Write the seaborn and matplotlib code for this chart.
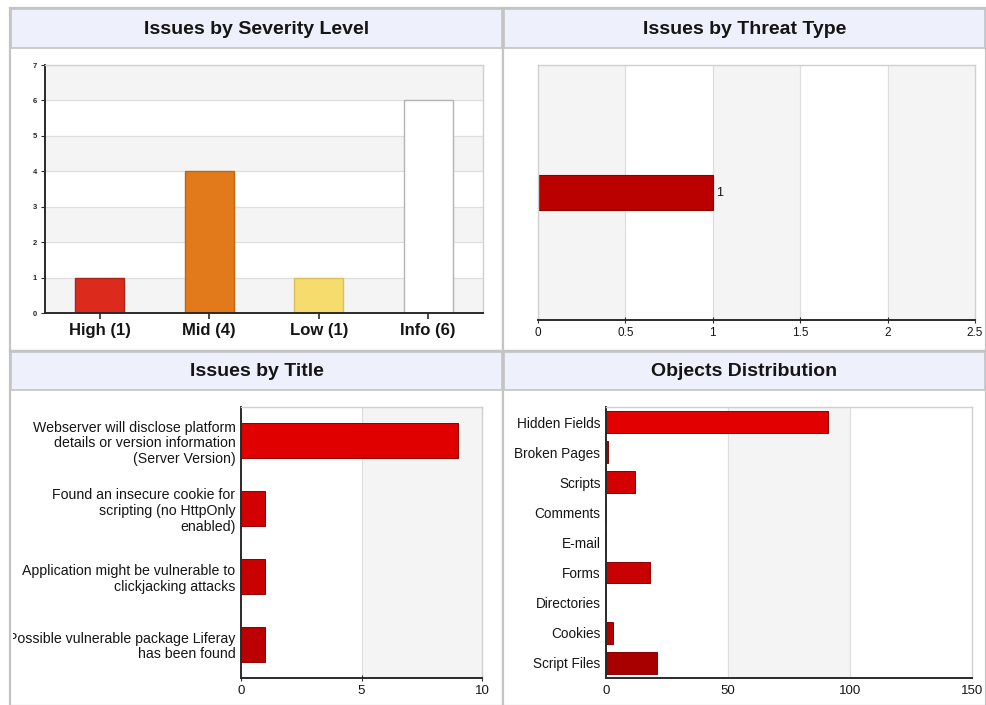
import numpy as np
import pandas as pd
import matplotlib
matplotlib.use("Agg")
import matplotlib.pyplot as plt
from matplotlib.patches import Rectangle
import seaborn as sns

# ---------------- data ----------------
severity_levels = ["High (1)", "Mid (4)", "Low (1)", "Info (6)"]
severity_counts = [1, 4, 1, 6]
severity_colors = ["#dc2a1c", "#e27a1b", "#f6dc6c", "#ffffff"]
severity_edges = ["#a8251a", "#c06515", "#d9c058", "#b4b4b4"]
severity_yticks = [0, 1, 2, 3, 4, 5, 6, 7]

threat_types = ["Threat"]
threat_counts = [1]
threat_xticks = [0, 0.5, 1, 1.5, 2, 2.5]
threat_xticklabels = ["0", "0.5", "1", "1.5", "2", "2.5"]

title_labels = [
    "Webserver will disclose platform\ndetails or version information\n(Server Version)",
    "Found an insecure cookie for\nscripting (no HttpOnly\nenabled)",
    "Application might be vulnerable to\nclickjacking attacks",
    "Possible vulnerable package Liferay\nhas been found",
]
title_counts = [9, 1, 1, 1]
title_colors = ["#e00000", "#d20000", "#c80000", "#ba0000"]
title_xticks = [0, 5, 10]

object_types = ["Hidden Fields", "Broken Pages", "Scripts", "Comments", "E-mail",
                "Forms", "Directories", "Cookies", "Script Files"]
object_counts = [91, 1, 12, 0, 0, 18, 0, 3, 21]
object_colors = ["#e20000", "#a80000", "#d40000", "#cc0000", "#c60000",
                 "#c80000", "#bc0000", "#b60000", "#a80000"]
object_xticks = [0, 50, 100, 150]

# ---------------- style ----------------
sns.set_theme(style="white")
plt.rcParams["font.family"] = ["Liberation Sans", "DejaVu Sans"]

W, H = 986, 705
fig = plt.figure(figsize=(W / 100, H / 100), dpi=100)
fig.patch.set_facecolor("white")

BORDER = "#c4c4c4"
TITLE_BG = "#eef0fb"
BAND = "#f4f4f4"
GRID = "#dedede"
DARK = "#2a2a2a"
TXT = "#151515"


def rect_px(x0, y0, x1, y1, **kw):
    r = Rectangle((x0 / W, 1 - y1 / H), (x1 - x0) / W, (y1 - y0) / H,
                  transform=fig.transFigure, **kw)
    fig.add_artist(r)
    return r


def ax_px(x0, y0, x1, y1):
    return fig.add_axes([x0 / W, 1 - y1 / H, (x1 - x0) / W, (y1 - y0) / H])


# panel frames and title bars
panels = [
    (10, 8, 503, 351, 48, "Issues by Severity Level"),
    (503, 8, 986, 351, 48, "Issues by Threat Type"),
    (10, 351, 503, 706, 390, "Issues by Title"),
    (503, 351, 986, 706, 390, "Objects Distribution"),
]
for x0, y0, x1, y1, tb, ttl in panels:
    rect_px(x0, y0, x1, y1, facecolor="white", edgecolor=BORDER, lw=1.6, zorder=-3)
    rect_px(x0 + 1, y0 + 1, x1 - 1, tb, facecolor=TITLE_BG, edgecolor=BORDER, lw=1.2, zorder=-2)
    fig.text((x0 + x1) / 2 / W, 1 - ((y0 + tb) / 2 + 1) / H, ttl, ha="center", va="center",
             fontsize=14, fontweight="bold", color=TXT)


def style_spines(ax, left_dark=True, bottom_dark=True):
    for s in ["top", "right"]:
        ax.spines[s].set_color("#d0d0d0")
        ax.spines[s].set_linewidth(1.0)
    ax.spines["left"].set_color(DARK if left_dark else "#d0d0d0")
    ax.spines["left"].set_linewidth(1.4 if left_dark else 1.0)
    ax.spines["bottom"].set_color(DARK if bottom_dark else "#d0d0d0")
    ax.spines["bottom"].set_linewidth(1.4 if bottom_dark else 1.0)
    for s in ax.spines.values():
        s.set_visible(True)


# ---------------- panel 1: severity ----------------
ax1 = ax_px(45, 65, 483, 313)
ax1.set_facecolor("white")
for lo in range(0, 7, 2):
    ax1.axhspan(lo, lo + 1, color=BAND, zorder=0, lw=0)
for v in severity_yticks[1:]:
    ax1.axhline(v, color=GRID, lw=0.9, zorder=0.5)
sns.barplot(x=severity_levels, y=severity_counts, hue=severity_levels,
            palette=severity_colors, legend=False, width=0.45, ax=ax1,
            saturation=1, zorder=2)
for cont, ec in zip(ax1.containers, severity_edges):
    for p in cont:
        p.set_edgecolor(ec)
        p.set_linewidth(1.0)
ax1.set_ylim(0, 7)
ax1.set_xlim(-0.5, 3.5)
ax1.set_yticks(severity_yticks)
ax1.set_yticklabels([str(v) for v in severity_yticks], fontsize=5.5, fontweight="bold")
ax1.tick_params(axis="y", length=3, width=0.8, color=DARK, pad=3, left=True)
ax1.tick_params(axis="x", length=4, width=1.2, color=DARK, pad=3, bottom=True)
for t in ax1.get_xticklabels():
    t.set_fontsize(12)
    t.set_fontweight("bold")
    t.set_color(TXT)
ax1.set_xlabel("")
ax1.set_ylabel("")
style_spines(ax1)

# ---------------- panel 2: threat type ----------------
ax2 = ax_px(538, 65, 975, 320)
ax2.set_facecolor("white")
for lo in [0, 1, 2]:
    ax2.axvspan(lo, lo + 0.5, color=BAND, zorder=0, lw=0)
for v in threat_xticks[1:-1]:
    ax2.axvline(v, color=GRID, lw=0.9, zorder=0.5)
sns.barplot(x=threat_counts, y=threat_types, orient="h", color="#bb0000",
            width=0.14, ax=ax2, saturation=1, zorder=2,
            edgecolor="#8c0000", linewidth=0.8)
for cont in ax2.containers:
    ax2.bar_label(cont, labels=[str(v) for v in threat_counts], padding=2,
                  fontsize=9, color=TXT)
ax2.set_xlim(0, 2.5)
ax2.set_xticks(threat_xticks)
ax2.set_xticklabels(threat_xticklabels, fontsize=8.5, color=TXT)
ax2.set_yticks([])
ax2.tick_params(axis="x", length=4, width=0.8, color=DARK, pad=3, bottom=True, direction="inout")
ax2.set_xlabel("")
ax2.set_ylabel("")
style_spines(ax2, left_dark=False)

# ---------------- panel 3: issues by title ----------------
ax3 = ax_px(241, 407, 482, 678)
ax3.set_facecolor("white")
ax3.axvspan(5, 10, color=BAND, zorder=0, lw=0)
ax3.axvline(5, color=GRID, lw=0.9, zorder=0.5)
sns.barplot(x=title_counts, y=title_labels, orient="h", hue=title_labels,
            palette=title_colors, legend=False, width=0.52, ax=ax3,
            saturation=1, zorder=2, edgecolor="#8c0000", linewidth=0.7)
ax3.set_xlim(0, 10)
ax3.set_xticks(title_xticks)
ax3.set_xticklabels([str(v) for v in title_xticks], fontsize=9.5, color=TXT)
ax3.tick_params(axis="x", length=4, width=0.8, color=DARK, pad=3, bottom=True, direction="inout")
ax3.tick_params(axis="y", length=0, pad=4)
clip = Rectangle((13 / W, 0), 1, 1, transform=fig.transFigure, visible=False)
fig.add_artist(clip)
for t in ax3.get_yticklabels():
    t.set_fontsize(10.2)
    t.set_linespacing(1.15)
    t.set_color(TXT)
    t.set_clip_path(clip)
ax3.set_xlabel("")
ax3.set_ylabel("")
style_spines(ax3)

# ---------------- panel 4: objects distribution ----------------
ax4 = ax_px(606, 407, 972, 678)
ax4.set_facecolor("white")
ax4.axvspan(50, 100, color=BAND, zorder=0, lw=0)
for v in [50, 100]:
    ax4.axvline(v, color=GRID, lw=0.9, zorder=0.5)
sns.barplot(x=object_counts, y=object_types, orient="h", hue=object_types,
            palette=object_colors, legend=False, width=0.72, ax=ax4,
            saturation=1, zorder=2, edgecolor="#8c0000", linewidth=0.7)
ax4.set_xlim(0, 150)
ax4.set_xticks(object_xticks)
ax4.set_xticklabels([str(v) for v in object_xticks], fontsize=9.5, color=TXT)
ax4.tick_params(axis="x", length=0, pad=5)
ax4.tick_params(axis="y", length=0, pad=4)
for t in ax4.get_yticklabels():
    t.set_fontsize(9.8)
    t.set_color(TXT)
ax4.set_xlabel("")
ax4.set_ylabel("")
style_spines(ax4)

fig.savefig("out.png", dpi=100)
